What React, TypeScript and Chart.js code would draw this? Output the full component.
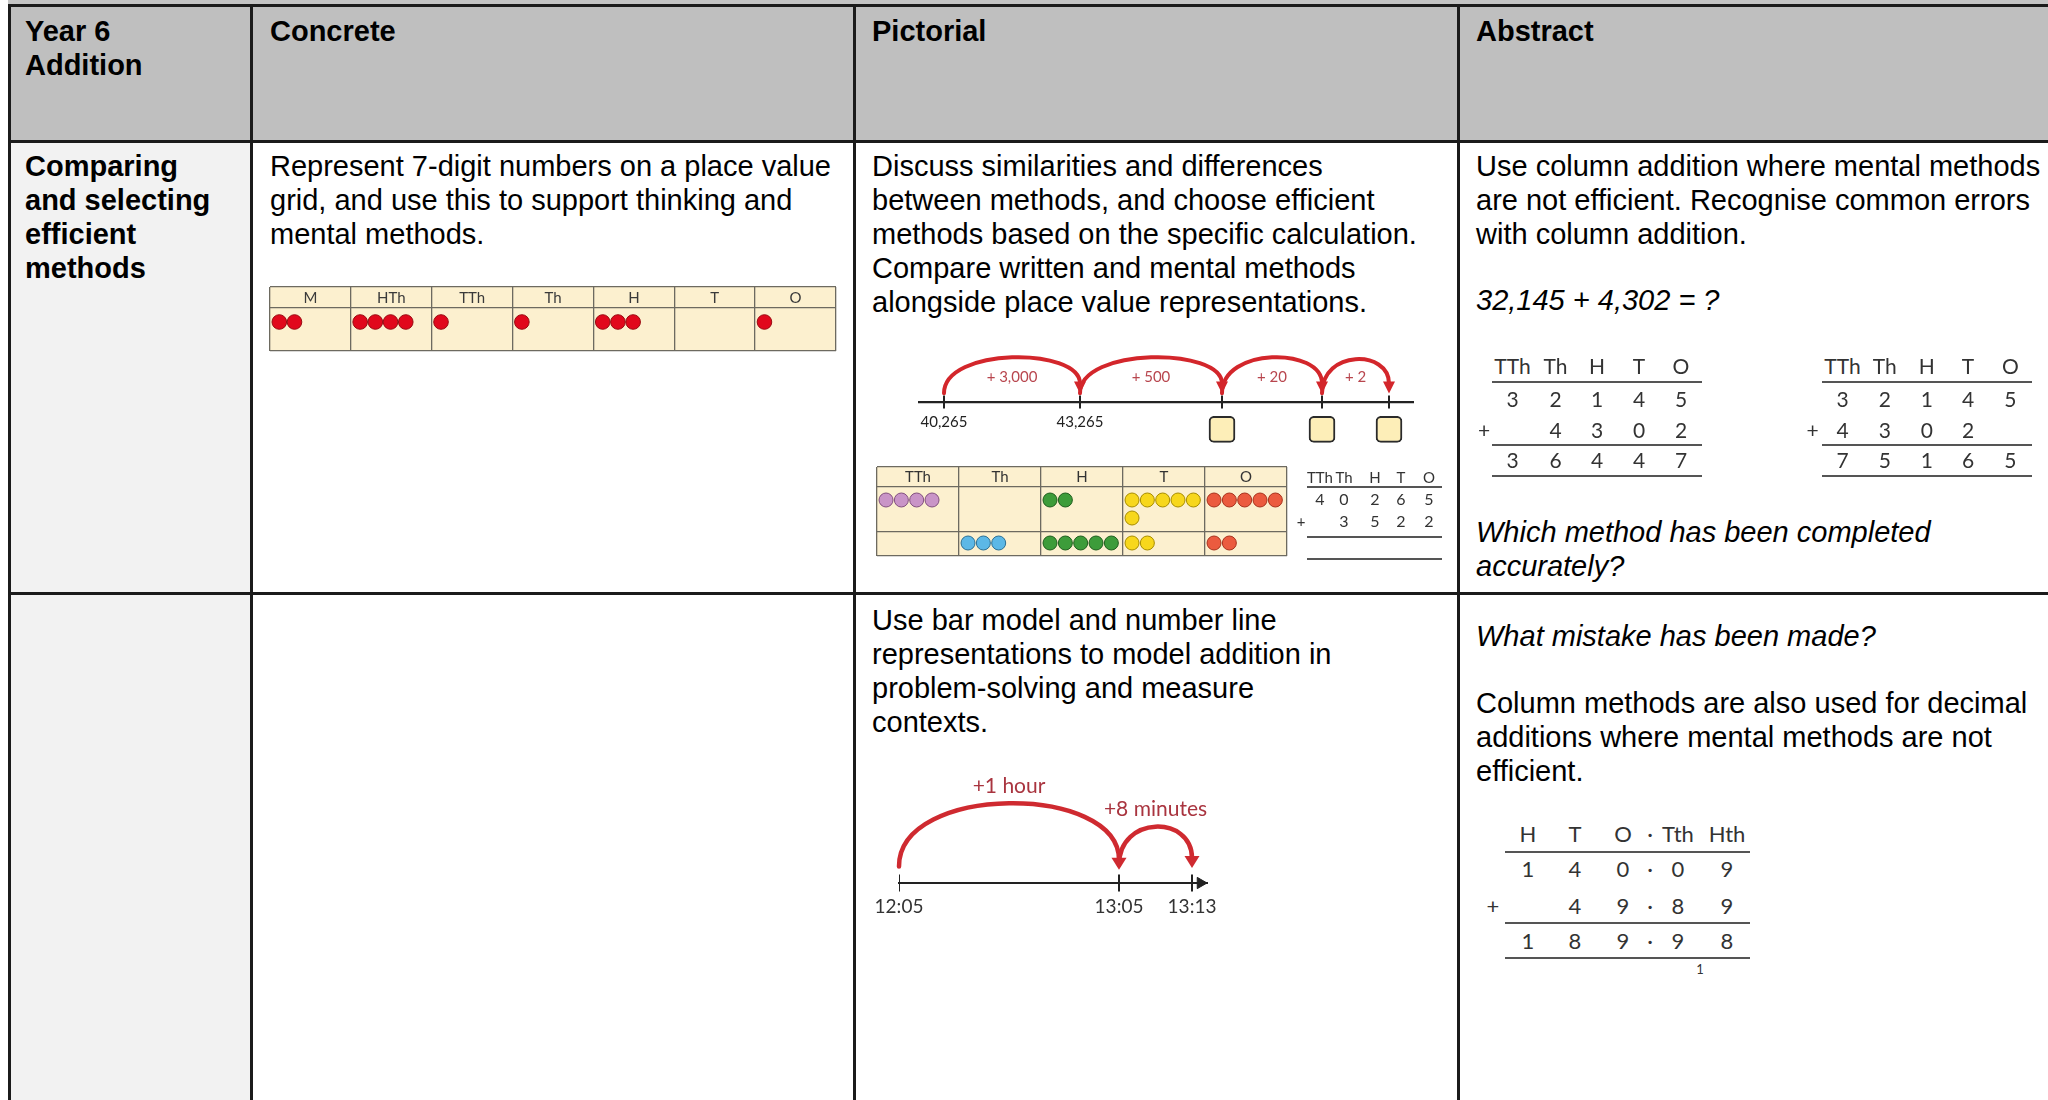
import React, { useEffect, useRef } from 'react';
import { Chart, registerables } from 'chart.js';

Chart.register(...registerables);
const DIAG = 'Lato, "Open Sans", sans-serif';
const BODY = '"Liberation Sans", Arial, sans-serif';
Chart.defaults.font.family = DIAG;

// ---------------- text content ----------------
const headerTitle = ['Year 6', 'Addition'];
const headerCols = ['Concrete', 'Pictorial', 'Abstract'];
const strandLines = ['Comparing', 'and selecting', 'efficient', 'methods'];
const concreteText = ['Represent 7-digit numbers on a place value', 'grid, and use this to support thinking and', 'mental methods.'];
const pictorialText = ['Discuss similarities and differences', 'between methods, and choose efficient', 'methods based on the specific calculation.', 'Compare written and mental methods', 'alongside place value representations.'];
const abstractText = ['Use column addition where mental methods', 'are not efficient. Recognise common errors', 'with column addition.'];
const abstractQuestion = ['32,145 + 4,302 = ?'];
const abstractPrompt = ['Which method has been completed', 'accurately?'];
const pictorialText2 = ['Use bar model and number line', 'representations to model addition in', 'problem-solving and measure', 'contexts.'];
const mistakeQuestion = ['What mistake has been made?'];
const decimalText = ['Column methods are also used for decimal', 'additions where mental methods are not', 'efficient.'];

// ---------------- diagram data ----------------
const concretePlaces = ['M', 'HTh', 'TTh', 'Th', 'H', 'T', 'O'];
const concreteCounters = [2, 4, 1, 1, 3, 0, 1];

const lineStops = [25, 161, 303, 403, 470]; // schematic positions along the number line
const lineStopLabels = ['40,265', '43,265', '', '', ''];
const lineJumps = ['+ 3,000', '+ 500', '+ 20', '+ 2'];
const lineBlankStops = [2, 3, 4];

const pvPlaces = ['TTh', 'Th', 'H', 'T', 'O'];
const pvFirst = [4, 0, 2, 6, 5];
const pvSecond = [0, 3, 5, 2, 2];

const smallSumHead = ['TTh', 'Th', 'H', 'T', 'O'];
const smallSumTop = ['4', '0', '2', '6', '5'];
const smallSumAdd = ['', '3', '5', '2', '2'];

const sumHead = ['TTh', 'Th', 'H', 'T', 'O'];
const sumATop = ['3', '2', '1', '4', '5'];
const sumAAdd = ['', '4', '3', '0', '2'];
const sumAResult = ['3', '6', '4', '4', '7'];
const sumBTop = ['3', '2', '1', '4', '5'];
const sumBAdd = ['4', '3', '0', '2', ''];
const sumBResult = ['7', '5', '1', '6', '5'];

const timeStops = [0, 220, 293];
const timeLabels = ['12:05', '13:05', '13:13'];
const timeJumps = ['+1 hour', '+8 minutes'];

const decHead = ['H', 'T', 'O', '·', 'Tth', 'Hth'];
const decTop = ['1', '4', '0', '·', '0', '9'];
const decAdd = ['', '4', '9', '·', '8', '9'];
const decResult = ['1', '8', '9', '·', '9', '8'];
const decCarry = '1';

// ---------------- styles ----------------
const pvFill = ['#c994c7', '#5cb8e6', '#3d9c3a', '#f7d71c', '#eb5b3f'];
const pvEdge = ['#82507f', '#2b6f94', '#1f5e1e', '#a88d00', '#a8321d'];
const paleYellow = '#fcf0cf';
const gridGrey = '#6d6a60';

const jumpStyleLine = {
  start: [8.7, 8.7, 8.7, 8.7], top: [45, 45, 45, 43], tip: [8.5, 8.5, 8.5, 8.5], labelY: [25, 25, 25, 25],
  head: 12, halfW: 6, width: 4, color: '#d3262b', labelColor: '#b8464e', font: '15px ' + DIAG,
};
const jumpStyleTime = {
  start: [16.6, 18], top: [80, 56.6], tip: [13.3, 15], labelY: [97, 74],
  head: 12, halfW: 7.5, width: 4.5, color: '#cf2a30', labelColor: '#a9343f', font: '21px ' + DIAG,
};

function counterPoints(counts: number[], y: number, perLine: number, lineGap: number, start: number, step: number) {
  const pts: { x: number; y: number; col: number }[] = [];
  counts.forEach((n, c) => {
    for (let k = 0; k < n; k++) {
      const line = Math.floor(k / perLine);
      const pos = k % perLine;
      pts.push({ x: c + start + pos * step, y: y + line * lineGap, col: c });
    }
  });
  return pts;
}

const areaFill = (color: string) => ({
  id: 'areaFill',
  beforeDraw(chart: any) {
    const { ctx, chartArea: a } = chart;
    ctx.save();
    ctx.fillStyle = color;
    ctx.fillRect(a.left, a.top, a.right - a.left, a.bottom - a.top);
    ctx.restore();
  },
});

const jumpPlugin = (stops: number[], labels: string[], st: any) => ({
  id: 'jumps',
  afterDatasetsDraw(chart: any) {
    const { ctx, scales: { x, y } } = chart;
    ctx.save();
    labels.forEach((label, i) => {
      const x0 = x.getPixelForValue(stops[i]);
      const x1 = x.getPixelForValue(stops[i + 1]);
      const y0 = y.getPixelForValue(st.start[i]);
      const yt = y.getPixelForValue(st.top[i]);
      const tip = y.getPixelForValue(st.tip[i]);
      const base = tip - st.head;
      const yc = (yt - (y0 + base) / 8) / 0.75;
      ctx.strokeStyle = st.color;
      ctx.lineWidth = st.width;
      ctx.lineCap = 'round';
      ctx.beginPath();
      ctx.moveTo(x0, y0);
      ctx.bezierCurveTo(x0, yc, x1, yc, x1, base + 2);
      ctx.stroke();
      ctx.fillStyle = st.color;
      ctx.beginPath();
      ctx.moveTo(x1 - st.halfW, base);
      ctx.lineTo(x1 + st.halfW, base);
      ctx.lineTo(x1, tip);
      ctx.closePath();
      ctx.fill();
      ctx.fillStyle = st.labelColor;
      ctx.font = st.font;
      ctx.textAlign = 'center';
      ctx.textBaseline = 'middle';
      ctx.fillText(label, (x0 + x1) / 2, y.getPixelForValue(st.labelY[i]));
    });
    ctx.restore();
  },
});

const baseOptions = {
  animation: false as const,
  responsive: false,
  events: [] as any[],
  plugins: { legend: { display: false }, tooltip: { enabled: false } },
};

// ---------------- chart configs ----------------
function concreteConfig(): any {
  const pts = counterPoints(concreteCounters, 35, 9, 0, 0.115, 0.188);
  return {
    type: 'scatter',
    data: {
      datasets: [{
        data: pts, xAxisID: 'xp', yAxisID: 'y',
        pointRadius: 7.3, pointBackgroundColor: '#e1081c', pointBorderColor: '#9a0b12', pointBorderWidth: 1,
      }],
    },
    options: {
      ...baseOptions,
      layout: { autoPadding: false, padding: 1 },
      scales: {
        x: {
          type: 'category', labels: concretePlaces, offset: true, position: { y: 2 },
          grid: { offset: true, color: gridGrey, lineWidth: 1.3, drawTicks: false },
          border: { display: false },
          ticks: { padding: 0, color: '#3a3a3a', font: { size: 15 }, maxRotation: 0, autoSkip: false },
        },
        xp: { type: 'linear', display: false, min: 0, max: 7 },
        y: {
          type: 'linear', reverse: true, min: 0, max: 64,
          afterBuildTicks: (s: any) => { s.ticks = [0, 21, 64].map((value) => ({ value })); },
          grid: { color: gridGrey, lineWidth: 1.3, drawTicks: false },
          border: { display: false }, ticks: { display: false },
        },
      },
    },
    plugins: [areaFill(paleYellow)],
  };
}

function pvConfig(): any {
  const p1 = counterPoints(pvFirst, 33, 5, 18, 0.11, 0.187);
  const p2 = counterPoints(pvSecond, 76, 5, 18, 0.11, 0.187);
  const ds = (pts: any[]) => ({
    data: pts, xAxisID: 'xp', yAxisID: 'y', pointRadius: 7,
    pointBackgroundColor: pts.map((p) => pvFill[p.col]),
    pointBorderColor: pts.map((p) => pvEdge[p.col]), pointBorderWidth: 1,
  });
  return {
    type: 'scatter',
    data: { datasets: [ds(p1), ds(p2)] },
    options: {
      ...baseOptions,
      layout: { autoPadding: false, padding: 1 },
      scales: {
        x: {
          type: 'category', labels: pvPlaces, offset: true, position: { y: 1 },
          grid: { offset: true, color: gridGrey, lineWidth: 1.3, drawTicks: false },
          border: { display: false },
          ticks: { padding: 0, color: '#333', font: { size: 15 }, maxRotation: 0, autoSkip: false },
        },
        xp: { type: 'linear', display: false, min: 0, max: 5 },
        y: {
          type: 'linear', reverse: true, min: 0, max: 89,
          afterBuildTicks: (s: any) => { s.ticks = [0, 20, 64.5, 89].map((value) => ({ value })); },
          grid: { color: gridGrey, lineWidth: 1.3, drawTicks: false },
          border: { display: false }, ticks: { display: false },
        },
      },
    },
    plugins: [areaFill(paleYellow)],
  };
}

function numberLineConfig(): any {
  return {
    type: 'scatter',
    data: {
      datasets: [
        {
          type: 'bar', data: lineBlankStops.map((i) => ({ x: lineStops[i], y: [-40.3, -14.3] })),
          barThickness: 26, borderRadius: 5, borderWidth: 2, borderSkipped: false,
          backgroundColor: '#fdeeb8', borderColor: '#2b2b2b',
        },
        {
          data: lineStops.map((x) => ({ x, y: 0 })), pointStyle: 'line', pointRotation: 90,
          pointRadius: 6.5, pointBorderWidth: 2, pointBorderColor: '#222',
        },
      ],
    },
    options: {
      ...baseOptions,
      layout: { autoPadding: false, padding: { left: 19, right: 17, top: 0, bottom: 0 } },
      scales: {
        x: {
          type: 'linear', min: 0, max: 494, offset: false, position: { y: 0 },
          afterBuildTicks: (s: any) => { s.ticks = lineStops.map((value) => ({ value })); },
          grid: { display: false, drawTicks: false, offset: false },
          border: { display: true, color: '#222', width: 2.3 },
          ticks: { callback: (_v: any, i: number) => lineStopLabels[i], padding: 11, color: '#222', font: { size: 15 }, autoSkip: false, maxRotation: 0 },
        },
        y: { type: 'linear', display: false, min: -48, max: 52 },
      },
    },
    plugins: [jumpPlugin(lineStops, lineJumps, jumpStyleLine)],
  };
}

const timeAxisMax = 308;
function timeLineConfig(): any {
  return {
    type: 'scatter',
    data: {
      datasets: [
        {
          data: timeStops.map((x) => ({ x, y: 0 })), pointStyle: 'line', pointRotation: 90,
          pointRadius: 8.5, pointBorderWidth: 2, pointBorderColor: '#222',
        },
        {
          data: [{ x: timeAxisMax - 6.5, y: 0 }], pointStyle: 'triangle', pointRotation: 90,
          pointRadius: 6.5, pointBackgroundColor: '#222', pointBorderColor: '#222', pointBorderWidth: 1,
        },
      ],
    },
    options: {
      ...baseOptions,
      layout: { autoPadding: false, padding: { left: 49, right: 43, top: 0, bottom: 0 } },
      scales: {
        x: {
          type: 'linear', min: 0, max: timeAxisMax, position: { y: 0 },
          afterBuildTicks: (s: any) => { s.ticks = timeStops.map((value) => ({ value })); },
          grid: { display: false, drawTicks: false },
          border: { display: true, color: '#222', width: 2 },
          ticks: { callback: (_v: any, i: number) => timeLabels[i], padding: 12, color: '#333', font: { size: 19 }, autoSkip: false, maxRotation: 0 },
        },
        y: { type: 'linear', display: false, min: -37, max: 113 },
      },
    },
    plugins: [jumpPlugin(timeStops, timeJumps, jumpStyleTime)],
  };
}

// ---------------- components ----------------
function ChartBox({ left, top, width, height, make }: { left: number; top: number; width: number; height: number; make: () => any }) {
  const ref = useRef<HTMLCanvasElement>(null);
  useEffect(() => {
    const chart = new Chart(ref.current as HTMLCanvasElement, make());
    return () => chart.destroy();
  }, []);
  return (
    <div style={{ position: 'absolute', left, top, width, height }}>
      <canvas ref={ref} width={width} height={height} style={{ display: 'block', width, height }} />
    </div>
  );
}

function Box({ l, t, w, h, bg }: { l: number; t: number; w: number; h: number; bg: string }) {
  return <div style={{ position: 'absolute', left: l, top: t, width: w, height: h, background: bg }} />;
}

function TextBlock({ left, top, lines, bold, italic }: { left: number; top: number; lines: string[]; bold?: boolean; italic?: boolean }) {
  return (
    <div style={{
      position: 'absolute', left, top, fontFamily: BODY, fontSize: 29, lineHeight: '34px',
      fontWeight: bold ? 700 : 400, fontStyle: italic ? 'italic' : 'normal', color: '#000', whiteSpace: 'pre',
    }}>
      {lines.map((l, i) => <div key={i}>{l}</div>)}
    </div>
  );
}

function Cells({ xs, y, items, size, color = '#333' }: { xs: number[]; y: number; items: string[]; size: number; color?: string }) {
  return (
    <>
      {items.map((t, i) => t ? (
        <div key={i} style={{
          position: 'absolute', left: xs[i] - 40, width: 80, top: y - 0.63 * size, height: size * 1.2,
          lineHeight: `${size * 1.2}px`, textAlign: 'center', fontSize: size, fontFamily: DIAG, color, whiteSpace: 'pre',
        }}>{t}</div>
      ) : null)}
    </>
  );
}

function Rule({ x0, x1, y, w = 2, color = '#555' }: { x0: number; x1: number; y: number; w?: number; color?: string }) {
  return <div style={{ position: 'absolute', left: x0, top: y - w / 2, width: x1 - x0, height: w, background: color }} />;
}

// layout of the written methods
const smallCols = [1320, 1344, 1375, 1401, 1429];
const sumACols = [1512.5, 1555.6, 1597, 1639, 1681];
const sumBCols = [1842.5, 1884.8, 1926.8, 1968, 2010.4];
const decCols = [1528, 1575, 1623, 1650, 1678, 1727];

export default function App() {
  const ink = '#1b1b1b';
  return (
    <div style={{ position: 'fixed', left: 0, top: 0, width: 2048, height: 1100, background: '#fff', overflow: 'hidden', fontFamily: BODY }}>
      {/* cell backgrounds */}
      <Box l={8} t={0} w={2040} h={5} bg="#c4c4c4" />
      <Box l={11} t={7} w={2037} h={134} bg="#bfbfbf" />
      <Box l={11} t={143} w={240} h={957} bg="#f2f2f2" />
      {/* table rules */}
      <Box l={8} t={4} w={2040} h={3} bg={ink} />
      <Box l={8} t={4} w={3} h={1096} bg={ink} />
      <Box l={250} t={4} w={3} h={1096} bg={ink} />
      <Box l={853} t={4} w={3} h={1096} bg={ink} />
      <Box l={1457} t={4} w={3} h={1096} bg={ink} />
      <Box l={8} t={140} w={2040} h={3} bg={ink} />
      <Box l={8} t={592} w={2040} h={3} bg={ink} />

      {/* header */}
      <TextBlock left={25} top={14} lines={headerTitle} bold />
      <TextBlock left={270} top={14} lines={[headerCols[0]]} bold />
      <TextBlock left={872} top={14} lines={[headerCols[1]]} bold />
      <TextBlock left={1476} top={14} lines={[headerCols[2]]} bold />

      {/* row 1 */}
      <TextBlock left={25} top={149} lines={strandLines} bold />
      <TextBlock left={270} top={149} lines={concreteText} />
      <TextBlock left={872} top={149} lines={pictorialText} />
      <TextBlock left={1476} top={149} lines={abstractText} />
      <TextBlock left={1476} top={283} lines={abstractQuestion} italic />
      <TextBlock left={1476} top={514.5} lines={abstractPrompt} italic />

      <ChartBox left={269} top={286} width={568} height={66} make={concreteConfig} />
      <ChartBox left={900} top={350} width={530} height={100} make={numberLineConfig} />
      <ChartBox left={876} top={466} width={412} height={91} make={pvConfig} />

      {/* small written method (pictorial) */}
      <Cells xs={smallCols} y={477} items={smallSumHead} size={15} />
      <Rule x0={1307} x1={1442} y={487} w={1.5} />
      <Cells xs={smallCols} y={499.5} items={smallSumTop} size={16} />
      <Cells xs={[1301]} y={521.5} items={['+']} size={15} />
      <Cells xs={smallCols} y={521.5} items={smallSumAdd} size={16} />
      <Rule x0={1307} x1={1442} y={537} w={1.5} />
      <Rule x0={1307} x1={1442} y={559} w={1.5} />

      {/* abstract written methods */}
      <Cells xs={sumACols} y={366} items={sumHead} size={21} />
      <Rule x0={1492} x1={1702} y={382} />
      <Cells xs={sumACols} y={399} items={sumATop} size={21} />
      <Cells xs={[1484]} y={430} items={['+']} size={21} />
      <Cells xs={sumACols} y={430} items={sumAAdd} size={21} />
      <Rule x0={1492} x1={1702} y={445} />
      <Cells xs={sumACols} y={460.7} items={sumAResult} size={21} />
      <Rule x0={1492} x1={1702} y={476} />

      <Cells xs={sumBCols} y={366} items={sumHead} size={21} />
      <Rule x0={1822} x1={2032} y={382} />
      <Cells xs={sumBCols} y={399} items={sumBTop} size={21} />
      <Cells xs={[1812.5]} y={430} items={['+']} size={21} />
      <Cells xs={sumBCols} y={430} items={sumBAdd} size={21} />
      <Rule x0={1822} x1={2032} y={445} />
      <Cells xs={sumBCols} y={460.7} items={sumBResult} size={21} />
      <Rule x0={1822} x1={2032} y={476} />

      {/* row 2 */}
      <TextBlock left={872} top={603} lines={pictorialText2} />
      <TextBlock left={1476} top={619} lines={mistakeQuestion} italic />
      <TextBlock left={1476} top={685.5} lines={decimalText} />

      <ChartBox left={850} top={770} width={400} height={150} make={timeLineConfig} />

      <Cells xs={decCols} y={835} items={decHead} size={22} />
      <Rule x0={1505} x1={1750} y={852} />
      <Cells xs={decCols} y={870} items={decTop} size={22} />
      <Cells xs={[1493]} y={906.7} items={['+']} size={22} />
      <Cells xs={decCols} y={906.7} items={decAdd} size={22} />
      <Rule x0={1505} x1={1750} y={923.3} />
      <Cells xs={decCols} y={941.7} items={decResult} size={22} />
      <Rule x0={1505} x1={1750} y={958.3} />
      <Cells xs={[1700]} y={970} items={[decCarry]} size={13} />
    </div>
  );
}
